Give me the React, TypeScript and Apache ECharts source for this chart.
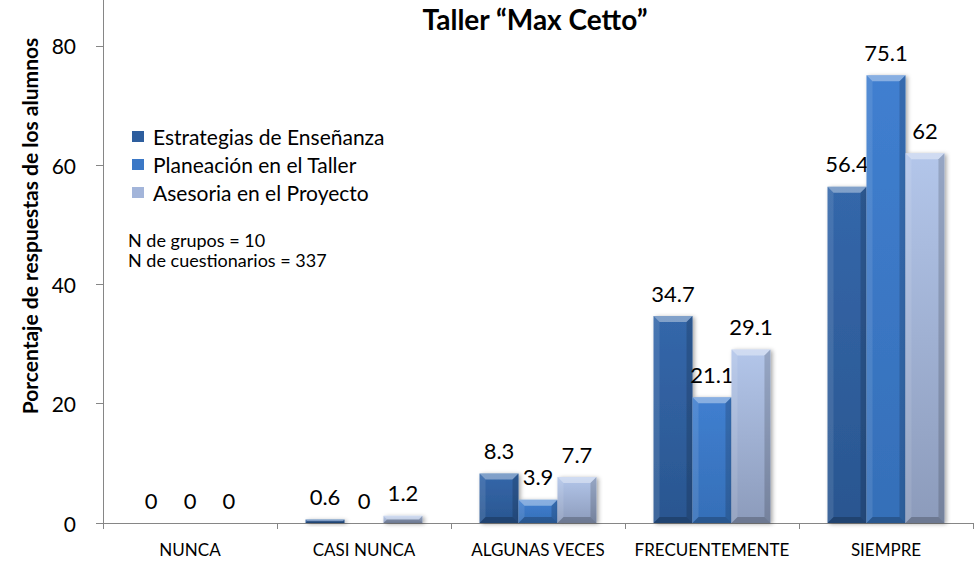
import React, { useEffect, useRef } from "react";
import * as echarts from "echarts";

const categories = ["NUNCA", "CASI NUNCA", "ALGUNAS VECES", "FRECUENTEMENTE", "SIEMPRE"];
const seriesNames = ["Estrategias de Enseñanza", "Planeación en el Taller", "Asesoria en el Proyecto"];
const estrategias = [0, 0.6, 8.3, 34.7, 56.4];
const planeacion = [0, 0, 3.9, 21.1, 75.1];
const asesoria = [0, 1.2, 7.7, 29.1, 62];
const yTicks = [0, 20, 40, 60, 80];
const notes = ["N de grupos = 10", "N de cuestionarios = 337"];
const titleText = "Taller “Max Cetto”";
const yAxisName = "Porcentaje de respuestas de los alumnos";

const FONT = "Lato, 'Noto Sans', sans-serif";
const faceTop = ["#3467aa", "#407fd0", "#b3c6ea"];
const faceBottom = ["#2a5690", "#356fb8", "#8c9bbb"];
const legendColors = ["#2e5e9e", "#3b78c6", "#a3b5da"];

export default function App() {
  const ref = useRef<HTMLDivElement>(null);
  useEffect(() => {
    if (!ref.current) return;
    const chart = echarts.init(ref.current, undefined, { renderer: "svg" });
    const data = [estrategias, planeacion, asesoria];

    const makeRender = (s: number) => (params: any, api: any) => {
      const idx = api.value(0);
      const val = api.value(1);
      const [cx, yt] = api.coord([idx, val]);
      const [, yb] = api.coord([idx, 0]);
      const band = api.size([1, 0])[0];
      const bw = band * 0.224;
      const x0 = cx + (s - 1.5) * bw;
      const x1 = x0 + bw;
      const h = yb - yt;
      const children: any[] = [];
      if (h > 0.2) {
        const b = Math.min(6, h / 2);
        children.push({
          type: "rect",
          shape: { x: x0, y: yt, width: bw, height: h },
          style: {
            fill: new echarts.graphic.LinearGradient(0, 0, 0, 1, [
              { offset: 0, color: faceTop[s] },
              { offset: 1, color: faceBottom[s] },
            ]),
            shadowColor: "rgba(0,0,0,0.35)",
            shadowBlur: 4,
            shadowOffsetX: 2,
            shadowOffsetY: 1,
          },
        });
        children.push({
          type: "polygon",
          shape: { points: [[x0, yt], [x1, yt], [x1 - b, yt + b], [x0 + b, yt + b]] },
          style: { fill: "rgba(255,255,255,0.38)" },
        });
        children.push({
          type: "polygon",
          shape: { points: [[x0, yt], [x0 + b, yt + b], [x0 + b, yb - b], [x0, yb]] },
          style: { fill: "rgba(255,255,255,0.10)" },
        });
        children.push({
          type: "polygon",
          shape: { points: [[x1, yt], [x1 - b, yt + b], [x1 - b, yb - b], [x1, yb]] },
          style: { fill: "rgba(0,0,0,0.16)" },
        });
        children.push({
          type: "polygon",
          shape: { points: [[x0, yb], [x1, yb], [x1 - b, yb - b], [x0 + b, yb - b]] },
          style: { fill: "rgba(0,0,0,0.22)" },
        });
      }
      children.push({
        type: "text",
        x: x0 + bw / 2,
        y: yt - 12,
        style: {
          text: String(val),
          textAlign: "center",
          textVerticalAlign: "bottom",
          font: `22px ${FONT}`,
          fill: "#000",
        },
      });
      return { type: "group", children };
    };

    chart.setOption({
      animation: false,
      textStyle: { fontFamily: FONT },
      title: {
        text: titleText,
        left: 535,
        textAlign: "center",
        top: 5,
        padding: 0,
        textStyle: { fontFamily: FONT, fontSize: 28, fontWeight: "bold", color: "#000" },
      },
      legend: {
        orient: "vertical",
        left: 132,
        top: 126,
        padding: 0,
        itemWidth: 12,
        itemHeight: 11,
        itemGap: 7,
        icon: "rect",
        textStyle: { fontFamily: FONT, fontSize: 21, lineHeight: 21, color: "#000", padding: [0, 0, 0, 4] },
        data: seriesNames.map((n, i) => ({ name: n, itemStyle: { color: legendColors[i] } })),
      },
      graphic: [
        ...notes.map((t, i) => ({
          type: "text",
          left: 128,
          top: 231 + i * 20,
          style: { text: t, font: `18px ${FONT}`, fill: "#000" },
        })),
        {
          type: "text",
          x: 29,
          y: 226,
          rotation: Math.PI / 2,
          style: {
            text: yAxisName,
            textAlign: "center",
            textVerticalAlign: "middle",
            font: `bold 21px ${FONT}`,
            fill: "#000",
          },
        },
      ],
      grid: { left: 103, right: 5, top: 0, bottom: 40, containLabel: false },
      xAxis: {
        type: "category",
        data: categories,
        axisLine: { lineStyle: { color: "#868686" } },
        axisTick: { show: true, length: 6, lineStyle: { color: "#868686" } },
        axisLabel: { color: "#000", fontSize: 17, margin: 18, interval: 0, fontFamily: FONT },
      },
      yAxis: {
        type: "value",
        min: 0,
        max: 87.7,
        interval: 20,
        axisLine: { show: true, lineStyle: { color: "#868686" } },
        axisTick: { show: true, length: 7, lineStyle: { color: "#868686" } },
        axisLabel: {
          color: "#000",
          fontSize: 21,
          margin: 27,
          fontFamily: FONT,
          showMaxLabel: false,
        },
        splitLine: { show: false },
      },
      series: data.map((d, i) => ({
        type: "custom",
        name: seriesNames[i],
        coordinateSystem: "cartesian2d",
        encode: { x: 0, y: 1 },
        itemStyle: { color: legendColors[i] },
        data: d.map((v, k) => [k, v]),
        renderItem: makeRender(i),
      })),
    });
    return () => chart.dispose();
  }, []);
  return <div ref={ref} style={{ position: "absolute", left: 0, top: 0, width: 978, height: 563 }} />;
}
